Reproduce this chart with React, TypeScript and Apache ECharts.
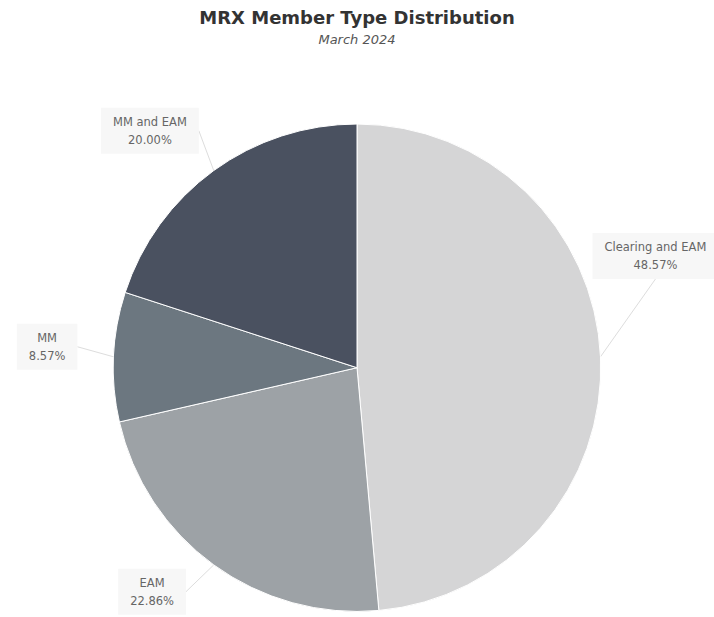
import React, { useEffect, useRef } from "react";
import * as echarts from "echarts";

const categories = ["Clearing and EAM", "EAM", "MM", "MM and EAM"];
const memberCounts = [17, 8, 3, 7];
const sliceColors = ["#d5d5d6", "#9da2a6", "#6c7780", "#4a5160"];

export default function App() {
  const ref = useRef<HTMLDivElement>(null);
  useEffect(() => {
    if (!ref.current) return;
    const chart = echarts.init(ref.current, null, { renderer: "svg" });
    // label anchor positions as fractions of the chart's width / height
    const labelSpots = [
      [0.918, 0.415],
      [0.213, 0.959],
      [0.066, 0.562],
      [0.21, 0.212],
    ];
    chart.setOption({
      animation: false,
      backgroundColor: "#ffffff",
      title: [
        {
          text: "MRX Member Type Distribution",
          left: "center",
          top: 3,
          textStyle: { fontFamily: "DejaVu Sans", fontSize: 18, fontWeight: "bold", color: "#333333" },
        },
        {
          text: "March 2024",
          left: "center",
          top: 33,
          padding: 0,
          textStyle: { fontFamily: "DejaVu Sans", fontSize: 13, fontStyle: "italic", fontWeight: "normal", color: "#555555" },
        },
      ],
      series: [
        {
          type: "pie",
          center: ["50%", "59.6%"],
          radius: "79%",
          startAngle: 90,
          clockwise: true,
          avoidLabelOverlap: false,
          itemStyle: { borderColor: "#ffffff", borderWidth: 1 },
          label: {
            show: true,
            position: "outside",
            formatter: (p: any) => `${p.name}\n${p.percent.toFixed(2)}%`,
            fontFamily: "DejaVu Sans",
            fontSize: 11.5,
            color: "#666666",
            lineHeight: 18,
            overflow: "none",
            backgroundColor: "#f7f7f7",
            padding: [5, 12],
          },
          labelLine: {
            show: true,
            length: 18,
            length2: 0,
            lineStyle: { color: "#dddddd", width: 1 },
          },
          labelLayout: (params: any) => {
            const w = chart.getWidth();
            const h = chart.getHeight();
            const s = labelSpots[params.dataIndex];
            return {
              x: s[0] * w,
              y: s[1] * h,
              align: "center",
              verticalAlign: "middle",
            };
          },
          emphasis: { disabled: true },
          data: categories.map((name, i) => ({
            name,
            value: memberCounts[i],
            itemStyle: { color: sliceColors[i] },
          })),
        },
      ],
    });
    return () => chart.dispose();
  }, []);
  return (
    <div
      ref={ref}
      style={{ position: "fixed", left: 0, top: 0, width: 714, height: 617 }}
    />
  );
}
